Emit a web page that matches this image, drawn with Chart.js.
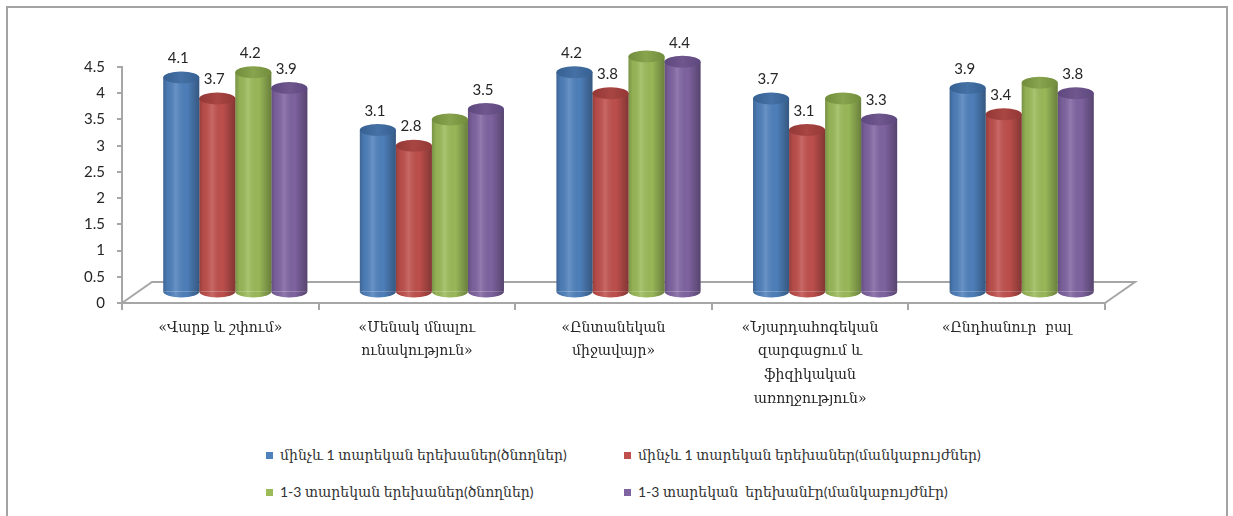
<!DOCTYPE html>
<html>
<head>
<meta charset="utf-8">
<script src="https://cdn.jsdelivr.net/npm/chart.js@4.4.1/dist/chart.umd.min.js"></script>
<style>
html,body{margin:0;padding:0;background:#fff;}
#wrap{position:relative;width:1233px;height:516px;overflow:hidden;}
#frame{position:absolute;left:6px;top:6px;width:1222px;height:530px;border:2px solid #a3a3a3;box-sizing:border-box;}
#cv{position:absolute;left:0;top:0;}
.lg{position:absolute;font:14px Lato,"DejaVu Serif","DejaVu Sans",serif;color:#333;white-space:pre;line-height:18px;}
.lg i{display:inline-block;width:7px;height:7px;margin-right:7px;vertical-align:1px;}
</style>
</head>
<body>
<div id="wrap">
  <div id="frame"></div>
  <canvas id="cv" width="1233" height="430"></canvas>
  <div id="legend"></div>
</div>
<script>
// ---- data ----
const CATS=[
  '«Վարք և շփում»',
  ['«Մենակ մնալու','ունակություն»'],
  ['«Ընտանեկան','միջավայր»'],
  ['«Նյարդահոգեկան','զարգացում և','ֆիզիկական','առողջություն»'],
  '«Ընդհանուր  բալ',
];
const SERIES=[
  'մինչև 1 տարեկան երեխաներ(ծնողներ)',
  'մինչև 1 տարեկան երեխաներ(մանկաբույժներ)',
  '1-3 տարեկան երեխաներ(ծնողներ)',
  '1-3 տարեկան  երեխանէր(մանկաբույժնէր)',
];
const under1Parents=[4.1,3.1,4.2,3.7,3.9];
const under1Doctors=[3.7,2.8,3.8,3.1,3.4];
const age13Parents =[4.2,3.3,4.5,3.7,4.0];
const age13Doctors =[3.9,3.5,4.4,3.3,3.8];
// which values carry a number label in the original
const showLbl=[[1,1,1,1,1],[1,1,1,1,1],[1,0,0,0,0],[1,1,1,1,1]];
const Y_TICKS=[0,0.5,1,1.5,2,2.5,3,3.5,4,4.5];
const COLORS=['#4f81bd','#c0504d','#9bbb59','#8064a2'];
const TOPS  =['#3e6ea6','#a8403d','#82a145','#6a5290'];

const AX='#a6a6a6';
const DEPTH={dx:30,dy:-21};          // floor depth
const MID={dx:15,dy:-10.5};          // cylinders sit half way back

// floor + depth shift for the cylinders
const fake3d={
  id:'fake3d',
  beforeDatasetsDraw(chart){
    const {ctx,chartArea:a}=chart;
    ctx.save();
    ctx.strokeStyle=AX;ctx.lineWidth=2;
    ctx.beginPath();
    ctx.moveTo(a.left,a.bottom);ctx.lineTo(a.left+DEPTH.dx,a.bottom+DEPTH.dy);
    ctx.lineTo(a.right+DEPTH.dx,a.bottom+DEPTH.dy);ctx.lineTo(a.right,a.bottom);
    ctx.stroke();
    ctx.restore();
    ctx.save();
    ctx.translate(MID.dx,MID.dy);
  },
  afterDatasetsDraw(chart){
    const ctx=chart.ctx;
    for(let d=chart.data.datasets.length-1;d>=0;d--){
      const meta=chart.getDatasetMeta(d);
      meta.data.forEach(el=>{
        const w=el.width, x0=el.x-w/2, ry=6;
        const g=ctx.createLinearGradient(x0,0,x0+w,0);
        g.addColorStop(0,'rgba(0,0,0,0.22)');
        g.addColorStop(0.12,'rgba(0,0,0,0.05)');
        g.addColorStop(0.35,'rgba(255,255,255,0.14)');
        g.addColorStop(0.65,'rgba(0,0,0,0.02)');
        g.addColorStop(1,'rgba(0,0,0,0.32)');
        // bottom half ellipse
        ctx.fillStyle=COLORS[d];
        ctx.beginPath();ctx.ellipse(el.x,el.base,w/2,ry,0,0,Math.PI);ctx.fill();
        // body shading
        ctx.fillStyle=g;
        ctx.beginPath();
        ctx.moveTo(x0,el.y);ctx.lineTo(x0,el.base);
        ctx.ellipse(el.x,el.base,w/2,ry,0,Math.PI,0,true);
        ctx.lineTo(x0+w,el.y);ctx.closePath();ctx.fill();
        // top cap
        const tg=ctx.createLinearGradient(x0,0,x0+w,0);
        tg.addColorStop(0,TOPS[d]);tg.addColorStop(0.5,COLORS[d]);tg.addColorStop(1,TOPS[d]);
        ctx.fillStyle=tg;
        ctx.beginPath();ctx.ellipse(el.x,el.y,w/2,ry,0,0,Math.PI*2);ctx.fill();
        ctx.fillStyle='rgba(0,0,0,0.12)';
        ctx.beginPath();ctx.ellipse(el.x,el.y,w/2,ry,0,0,Math.PI*2);ctx.fill();
      });
    }
    // value labels
    ctx.font='15px Lato, "DejaVu Sans", sans-serif';
    ctx.fillStyle='#262626';ctx.textAlign='center';ctx.textBaseline='middle';
    chart.data.datasets.forEach((ds,d)=>{
      chart.getDatasetMeta(d).data.forEach((el,i)=>{
        if(showLbl[d][i]) ctx.fillText(ds.data[i].toFixed(1),el.x-3,el.y-19);
      });
    });
    ctx.restore();
  }
};

const series=[under1Parents,under1Doctors,age13Parents,age13Doctors];
new Chart(document.getElementById('cv'),{
  type:'bar',
  data:{labels:CATS,datasets:series.map((v,k)=>({
    label:SERIES[k],data:v,backgroundColor:COLORS[k],borderWidth:0,clip:false,
    barPercentage:1,categoryPercentage:0.733,
  }))},
  options:{
    responsive:false,animation:false,
    layout:{padding:{left:0,right:128,top:67,bottom:17}},
    plugins:{legend:{display:false},tooltip:{enabled:false}},
    scales:{
      x:{
        grid:{display:true,drawOnChartArea:false,drawTicks:true,tickLength:7,color:AX,lineWidth:2},
        border:{display:true,color:AX,width:2},
        ticks:{color:'#262626',padding:6,font:{family:'"DejaVu Serif", serif',size:14,lineHeight:1.7},maxRotation:0,autoSkip:false},
        afterFit(s){s.height=110;}
      },
      y:{
        min:0,max:4.5,
        afterBuildTicks(s){s.ticks=Y_TICKS.map(v=>({value:v}));},
        grid:{display:true,drawOnChartArea:false,drawTicks:true,tickLength:5,color:AX,lineWidth:2},
        border:{display:true,color:AX,width:2},
        ticks:{color:'#262626',padding:12,font:{family:'Lato, "DejaVu Sans", sans-serif',size:15},callback:v=>String(v)},
        afterFit(s){s.width=122;}
      }
    }
  },
  plugins:[fake3d]
});

// 2 x 2 legend like the original
const LG_POS=[[266,446],[624,446],[266,483],[624,483]];
const lg=document.getElementById('legend');
SERIES.forEach((t,k)=>{
  const d=document.createElement('div');d.className='lg';
  d.style.left=LG_POS[k][0]+'px';d.style.top=LG_POS[k][1]+'px';
  d.innerHTML='<i style="background:'+COLORS[k]+'"></i>'+t;
  lg.appendChild(d);
});
</script>
</body>
</html>
